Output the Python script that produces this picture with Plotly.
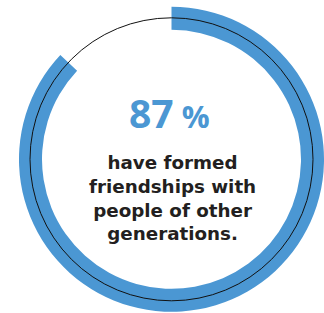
import plotly.graph_objects as go

# Data
labels = ["Have formed intergenerational friendships", "Other"]
values = [87, 13]
headline = "87"
headline_unit = "%"
caption_lines = ["have formed", "friendships with", "people of other", "generations."]

W, H = 324, 313
BLUE = "#4b97d3"
DARK = "#231f20"

cx, cy = 171.5, 159.3      # ring centre in px (from top-left)
R = 152.5                  # outer radius px
R_in = 129.5               # inner radius px
R_line = 141.5             # thin circle radius px

fig = go.Figure()
fig.add_trace(go.Pie(
    labels=labels,
    values=values,
    sort=False,
    direction="clockwise",
    rotation=0,
    hole=R_in / R,
    marker=dict(colors=[BLUE, "rgba(0,0,0,0)"], line=dict(width=0)),
    textinfo="none",
    hoverinfo="skip",
    showlegend=False,
    domain=dict(x=[(cx - R) / W, (cx + R) / W],
                y=[(H - cy - R) / H, (H - cy + R) / H]),
))

fig.add_shape(type="circle", xref="paper", yref="paper",
              x0=(cx - R_line) / W, x1=(cx + R_line) / W,
              y0=(H - cy - R_line) / H, y1=(H - cy + R_line) / H,
              line=dict(color="#111111", width=1))

fig.add_annotation(
    x=169.5 / W, y=1 - 112 / H, xref="paper", yref="paper",
    xanchor="center", yanchor="middle", showarrow=False,
    text=f"<b>{headline}<span style='font-size:31px'> {headline_unit}</span></b>",
    font=dict(family="Open Sans", size=39, color=BLUE),
)

fig.add_annotation(
    x=172 / W, y=1 - 197.5 / H, xref="paper", yref="paper",
    xanchor="center", yanchor="middle", showarrow=False, align="center",
    text="<b>" + "<br>".join(caption_lines) + "</b>",
    font=dict(family="DejaVu Sans", size=18.3, color=DARK),
)

fig.update_layout(
    width=W, height=H,
    margin=dict(l=0, r=0, t=0, b=0),
    paper_bgcolor="white", plot_bgcolor="white",
)

fig.write_html(
    "out.html",
    config={"displayModeBar": False},
    post_script="document.body.style.margin='0';document.body.style.overflow='hidden';",
)
